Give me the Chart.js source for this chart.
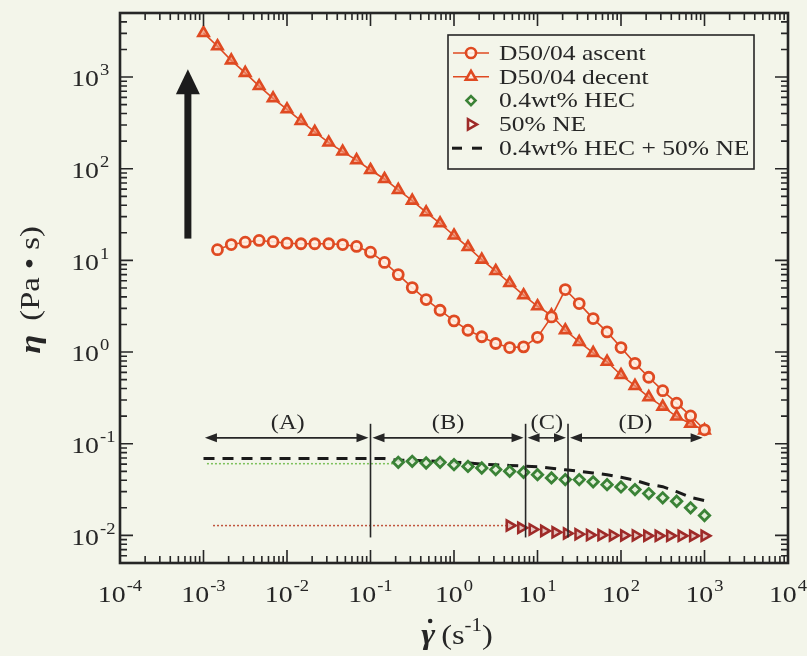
<!DOCTYPE html>
<html lang="en">
<head>
<meta charset="UTF-8">
<title>Viscosity vs shear rate</title>
<script src="https://cdn.jsdelivr.net/npm/chart.js"></script>
<style>
    body { margin: 0; background: #f3f5ea; }
    #chart { display: block; }
</style>
</head>
<body>
<canvas id="chart" width="807" height="656"></canvas>
<script>
// shear rate grid of the D50/04 and HEC runs (s^-1)
const shearRate = [0.001, 0.00147, 0.00215, 0.00316, 0.00464, 0.00681, 0.01, 0.0147, 0.0215, 0.0316,
    0.0464, 0.0681, 0.1, 0.147, 0.215, 0.316, 0.464, 0.681, 1, 1.47,
    2.15, 3.16, 4.64, 6.81, 10, 14.7, 21.5, 31.6, 46.4, 68.1,
    100, 147, 215, 316, 464, 681, 1000];

// D50/04 decent (all points) and ascent (from the 2nd rate on)
const decent = [3030, 2170, 1520, 1110, 798, 587, 445, 332, 253, 193,
    154, 124, 96.9, 77.3, 58.7, 44.9, 33.5, 25.4, 18.7, 14.0,
    10.2, 7.66, 5.66, 4.17, 3.16, 2.52, 1.73, 1.29, 0.98, 0.785,
    0.562, 0.427, 0.322, 0.254, 0.198, 0.165, 0.140];
const ascentRate = shearRate.slice(1);
const ascent = [13.1, 14.9, 15.8, 16.5, 16.0, 15.4, 15.2, 15.2, 15.2, 14.9,
    14.2, 12.3, 9.5, 7.0, 5.05, 3.74, 2.86, 2.19, 1.73, 1.47,
    1.24, 1.12, 1.14, 1.45, 2.42, 4.81, 3.38, 2.32, 1.66, 1.12,
    0.753, 0.531, 0.379, 0.277, 0.201, 0.142];

// 0.4wt% HEC
const hecRate = shearRate.slice(14);
const hec = [0.0627, 0.0643, 0.0617, 0.0627, 0.0591, 0.0566, 0.0544, 0.0522, 0.050, 0.0488,
    0.046, 0.0424, 0.0406, 0.0406, 0.0384, 0.0358, 0.0338, 0.0316, 0.0286, 0.0257,
    0.0236, 0.020, 0.0165];
const hecRestRate = [0.0011, 0.215];
const hecRest = [0.0606, 0.0606];

// 50% NE
const neRate = [4.64, 6.37, 8.73, 12.0, 16.4, 22.5, 30.9, 42.4, 58.2, 79.8,
    109, 150, 206, 282, 387, 531, 729, 1000];
const ne = [0.0128, 0.0121, 0.0116, 0.0112, 0.0108, 0.0105, 0.0103, 0.0101, 0.0101, 0.0100,
    0.0100, 0.0100, 0.0099, 0.0099, 0.0099, 0.0099, 0.0099, 0.0099];
const neRestRate = [0.0013, 4.64];
const neRest = [0.0128, 0.0128];

// 0.4wt% HEC + 50% NE (sum curve)
const mix = [0.069, 0.069, 0.069, 0.069, 0.069, 0.069, 0.069, 0.069, 0.069, 0.069,
    0.069, 0.069, 0.069, 0.069, 0.066, 0.066, 0.065, 0.064, 0.063, 0.062,
    0.060, 0.059, 0.058, 0.057, 0.056, 0.054, 0.052, 0.050, 0.048, 0.046,
    0.043, 0.040, 0.036, 0.034, 0.030, 0.026, 0.024];

const seriesNames = ['D50/04 ascent', 'D50/04 decent', '0.4wt% HEC', '50% NE', '0.4wt% HEC + 50% NE'];

// regions (A)-(D)
const regionBounds = [0.00104, 0.1, 7.2, 23.2, 950];
const regionLabels = ['(A)', '(B)', '(C)', '(D)'];
const arrowLevel = 0.116;
const labelLevel = 0.165;
const dividerTop = 0.165;
const dividerBottom = 0.0095;

// big upward arrow
const bigArrowRate = 0.00065;
const bigArrowFrom = 17.3;
const bigArrowTo = 1220;

// axes
const xRange = [1e-4, 1e4];
const yRange = [0.005, 5000];
const xTickExps = [-4, -3, -2, -1, 0, 1, 2, 3, 4];
const yTickExps = [-2, -1, 0, 1, 2, 3];

const BG = '#f3f5ea';
const INK = '#262626';
const ORANGE = '#df4a22';
const GREEN = '#3a8236';
const DARKRED = '#9e2a28';
const SERIF = "'Liberation Serif', 'DejaVu Serif', serif";
const SX = 1.16; // the lettering is a little wider than Times

const pts = (xs, ys) => xs.map((v, i) => ({ x: v, y: ys[i] }));

function text(ctx, str, x, y, font, align) {
    ctx.save();
    ctx.font = font;
    ctx.textBaseline = 'middle';
    ctx.textAlign = 'left';
    const w = ctx.measureText(str).width * SX;
    let left = x;
    if (align === 'center') left = x - w / 2;
    else if (align === 'right') left = x - w;
    ctx.translate(left, y);
    ctx.scale(SX, 1);
    ctx.fillText(str, 0, 0);
    ctx.restore();
    return w;
}

function textWidth(ctx, str, font) {
    ctx.save();
    ctx.font = font;
    const w = ctx.measureText(str).width * SX;
    ctx.restore();
    return w;
}

const F_TICK = '24px ' + SERIF;
const F_EXP = '16px ' + SERIF;

function drawPower(ctx, e, left, yMid) {
    const w1 = text(ctx, '10', left, yMid, F_TICK, 'left');
    text(ctx, String(e), left + w1 + 1, yMid - 9, F_EXP, 'left');
}

function arrowHead(ctx, x, y, dir, len, half) {
    ctx.beginPath();
    ctx.moveTo(x, y);
    ctx.lineTo(x - dir * len, y - half);
    ctx.lineTo(x - dir * len, y + half);
    ctx.closePath();
    ctx.fill();
}

function marker(ctx, style, x, y, color) {
    ctx.save();
    ctx.strokeStyle = color;
    ctx.fillStyle = 'rgba(255,245,235,0.9)';
    ctx.lineWidth = 2.6;
    ctx.beginPath();
    if (style === 'circle') {
        ctx.arc(x, y, 5, 0, Math.PI * 2);
    } else if (style === 'triangle') {
        ctx.moveTo(x, y - 6);
        ctx.lineTo(x + 5.2, y + 3);
        ctx.lineTo(x - 5.2, y + 3);
        ctx.closePath();
    } else if (style === 'rectRot') {
        ctx.moveTo(x, y - 4.5);
        ctx.lineTo(x + 4.5, y);
        ctx.lineTo(x, y + 4.5);
        ctx.lineTo(x - 4.5, y);
        ctx.closePath();
    } else if (style === 'triRight') {
        ctx.moveTo(x + 6, y);
        ctx.lineTo(x - 3, y + 5.2);
        ctx.lineTo(x - 3, y - 5.2);
        ctx.closePath();
    }
    ctx.fill();
    ctx.stroke();
    ctx.restore();
}

function drawAxes(chart) {
    const { ctx, chartArea: a, scales: { x, y } } = chart;
    ctx.save();
    ctx.strokeStyle = INK;
    ctx.fillStyle = INK;
    ctx.lineWidth = 1.6;
    // x ticks, bottom and top, pointing inward
    for (let e = Math.floor(Math.log10(x.min)); e <= Math.ceil(Math.log10(x.max)); e++) {
        for (let m = 1; m <= 9; m++) {
            const v = m * Math.pow(10, e);
            if (v < x.min * 0.999 || v > x.max * 1.001) continue;
            const px = x.getPixelForValue(v);
            const len = m === 1 ? 13 : 7;
            ctx.beginPath();
            ctx.moveTo(px, a.bottom); ctx.lineTo(px, a.bottom - len);
            ctx.moveTo(px, a.top); ctx.lineTo(px, a.top + len);
            ctx.stroke();
        }
    }
    // y ticks, left and right
    for (let e = Math.floor(Math.log10(y.min)); e <= Math.ceil(Math.log10(y.max)); e++) {
        for (let m = 1; m <= 9; m++) {
            const v = m * Math.pow(10, e);
            if (v < y.min * 0.999 || v > y.max * 1.001) continue;
            const py = y.getPixelForValue(v);
            const len = m === 1 ? 13 : 7;
            ctx.beginPath();
            ctx.moveTo(a.left, py); ctx.lineTo(a.left + len, py);
            ctx.moveTo(a.right, py); ctx.lineTo(a.right - len, py);
            ctx.stroke();
        }
    }
    ctx.lineWidth = 2.6;
    ctx.strokeRect(a.left, a.top, a.right - a.left, a.bottom - a.top);

    // tick labels
    xTickExps.forEach(e => {
        const px = x.getPixelForValue(Math.pow(10, e));
        const w = textWidth(ctx, '10', F_TICK) + 1 + textWidth(ctx, String(e), F_EXP);
        drawPower(ctx, e, px - w / 2, a.bottom + 33);
    });
    yTickExps.forEach(e => {
        const py = y.getPixelForValue(Math.pow(10, e));
        const w1 = textWidth(ctx, '10', F_TICK);
        drawPower(ctx, e, a.left - 21 - w1, py + 3);
    });

    // x title: gamma-dot (s^-1)
    const fG = 'bold italic 29px ' + SERIF;
    const fT = '28px ' + SERIF;
    const fE = '18px ' + SERIF;
    const parts = [textWidth(ctx, '\u03b3', fG), 6, textWidth(ctx, '(s', fT), textWidth(ctx, '-1', fE), textWidth(ctx, ')', fT)];
    const total = parts.reduce((s, v) => s + v, 0);
    let cx = (a.left + a.right) / 2 + 3 - total / 2;
    const ty = 637;
    text(ctx, '\u03b3', cx, ty, fG, 'left');
    ctx.beginPath();
    ctx.arc(cx + parts[0] / 2 + 2, ty - 16, 2.3, 0, Math.PI * 2);
    ctx.fill();
    cx += parts[0] + parts[1];
    text(ctx, '(s', cx, ty, fT, 'left');
    cx += parts[2];
    text(ctx, '-1', cx, ty - 11, fE, 'left');
    cx += parts[3];
    text(ctx, ')', cx, ty, fT, 'left');

    // y title: eta (Pa . s), rotated
    ctx.save();
    ctx.translate(32, 0);
    ctx.rotate(-Math.PI / 2);
    const fEta = 'bold italic 30px ' + SERIF;
    const wEta = textWidth(ctx, '\u03b7', fEta);
    const wRest = textWidth(ctx, '(Pa \u2022 s)', fT);
    const start = -(290 + (wEta + 14 + wRest) / 2);
    text(ctx, '\u03b7', start, 0, fEta, 'left');
    text(ctx, '(Pa \u2022 s)', start + wEta + 14, 0, fT, 'left');
    ctx.restore();
    ctx.restore();
}

function drawRegions(chart) {
    const { ctx, scales: { x, y } } = chart;
    ctx.save();
    ctx.strokeStyle = INK;
    ctx.fillStyle = INK;
    ctx.lineWidth = 1.6;
    const bx = regionBounds.map(v => x.getPixelForValue(v));
    const yArrow = y.getPixelForValue(arrowLevel);
    const yTop = y.getPixelForValue(dividerTop);
    const yBot = y.getPixelForValue(dividerBottom);
    for (let i = 1; i < bx.length - 1; i++) {
        ctx.beginPath();
        ctx.moveTo(bx[i], yTop);
        ctx.lineTo(bx[i], yBot);
        ctx.stroke();
    }
    for (let i = 0; i < regionLabels.length; i++) {
        const l = bx[i] + (i === 0 ? 0 : 2);
        const r = bx[i + 1] - (i === regionLabels.length - 1 ? 0 : 2);
        ctx.beginPath();
        ctx.moveTo(l + 4, yArrow);
        ctx.lineTo(r - 4, yArrow);
        ctx.stroke();
        arrowHead(ctx, l, yArrow, -1, 12, 4.5);
        arrowHead(ctx, r, yArrow, 1, 12, 4.5);
        const mid = x.getPixelForValue(Math.sqrt(regionBounds[i] * regionBounds[i + 1]));
        text(ctx, regionLabels[i], mid, y.getPixelForValue(labelLevel), '21px ' + SERIF, 'center');
    }
    // big upward arrow
    const ax = x.getPixelForValue(bigArrowRate);
    const y0 = y.getPixelForValue(bigArrowFrom);
    const y1 = y.getPixelForValue(bigArrowTo);
    ctx.fillStyle = '#1c1c1c';
    ctx.fillRect(ax - 3.5, y1 + 20, 7, y0 - y1 - 20);
    ctx.beginPath();
    ctx.moveTo(ax, y1);
    ctx.lineTo(ax + 12, y1 + 25);
    ctx.lineTo(ax - 12, y1 + 25);
    ctx.closePath();
    ctx.fill();
    ctx.restore();
}

function drawLegend(chart) {
    const ctx = chart.ctx;
    ctx.save();
    ctx.fillStyle = BG;
    ctx.fillRect(448, 35, 306, 134);
    ctx.strokeStyle = INK;
    ctx.lineWidth = 1.6;
    ctx.strokeRect(448, 35, 306, 134);
    const styles = [
        { m: 'circle', c: ORANGE, line: true },
        { m: 'triangle', c: ORANGE, line: true },
        { m: 'rectRot', c: GREEN },
        { m: 'triRight', c: DARKRED },
        { dash: true }
    ];
    seriesNames.forEach((name, i) => {
        const yy = 53 + i * 23.8;
        const s = styles[i];
        if (s.line) {
            ctx.strokeStyle = ORANGE;
            ctx.lineWidth = 1.6;
            ctx.beginPath();
            ctx.moveTo(453, yy); ctx.lineTo(489, yy);
            ctx.stroke();
        }
        if (s.dash) {
            ctx.fillStyle = '#1a1a1a';
            ctx.fillRect(452, yy - 1.5, 10, 3);
            ctx.fillRect(472, yy - 1.5, 10, 3);
        } else {
            marker(ctx, s.m, 471, yy, s.c);
        }
        ctx.fillStyle = INK;
        text(ctx, name, 499, yy + 1, '22px ' + SERIF, 'left');
    });
    ctx.restore();
}

const framePlugin = {
    id: 'frame',
    beforeDraw(chart) {
        const c = chart.ctx;
        c.save();
        c.fillStyle = BG;
        c.fillRect(0, 0, chart.width, chart.height);
        c.restore();
    },
    afterDatasetsDraw(chart) {
        drawRegions(chart);
        drawAxes(chart);
        drawLegend(chart);
    }
};

const ctx = document.getElementById('chart').getContext('2d');
new Chart(ctx, {
    type: 'scatter',
    data: {
        datasets: [
            {
                label: seriesNames[0],
                data: pts(ascentRate, ascent),
                showLine: true,
                borderColor: ORANGE,
                borderWidth: 1.6,
                pointStyle: 'circle',
                pointRadius: 5,
                pointBorderWidth: 2.8,
                pointBorderColor: ORANGE,
                pointBackgroundColor: 'rgba(255,238,225,0.9)'
            },
            {
                label: seriesNames[1],
                data: pts(shearRate, decent),
                showLine: true,
                borderColor: ORANGE,
                borderWidth: 1.6,
                pointStyle: 'triangle',
                pointRadius: 6,
                pointBorderWidth: 2.6,
                pointBorderColor: ORANGE,
                pointBackgroundColor: 'rgba(240,140,110,0.7)'
            },
            {
                label: seriesNames[2],
                data: pts(hecRate, hec),
                showLine: false,
                pointStyle: 'rectRot',
                pointRadius: 5.2,
                pointBorderWidth: 2.8,
                pointBorderColor: GREEN,
                pointBackgroundColor: 'rgba(225,238,215,0.9)'
            },
            {
                label: seriesNames[3],
                data: pts(neRate, ne),
                showLine: false,
                pointStyle: 'triangle',
                rotation: 90,
                pointRadius: 5.8,
                pointBorderWidth: 2.6,
                pointBorderColor: DARKRED,
                pointBackgroundColor: 'rgba(225,190,185,0.9)'
            },
            {
                label: seriesNames[4],
                data: pts(shearRate, mix),
                showLine: true,
                borderColor: '#1a1a1a',
                borderWidth: 3,
                borderDash: [11, 8],
                pointRadius: 0
            },
            {
                label: 'HEC rest',
                data: pts(hecRestRate, hecRest),
                showLine: true,
                borderColor: '#7cc05a',
                borderWidth: 1.5,
                borderDash: [2, 2],
                pointRadius: 0
            },
            {
                label: 'NE rest',
                data: pts(neRestRate, neRest),
                showLine: true,
                borderColor: '#c0553e',
                borderWidth: 1.5,
                borderDash: [2, 2],
                pointRadius: 0
            }
        ]
    },
    options: {
        responsive: false,
        animation: false,
        devicePixelRatio: 1,
        layout: { padding: { left: 120, top: 13, right: 19, bottom: 93 } },
        scales: {
            x: { type: 'logarithmic', min: xRange[0], max: xRange[1], display: false },
            y: { type: 'logarithmic', min: yRange[0], max: yRange[1], display: false }
        },
        plugins: {
            legend: { display: false },
            tooltip: { enabled: false }
        }
    },
    plugins: [framePlugin]
});
</script>
</body>
</html>
